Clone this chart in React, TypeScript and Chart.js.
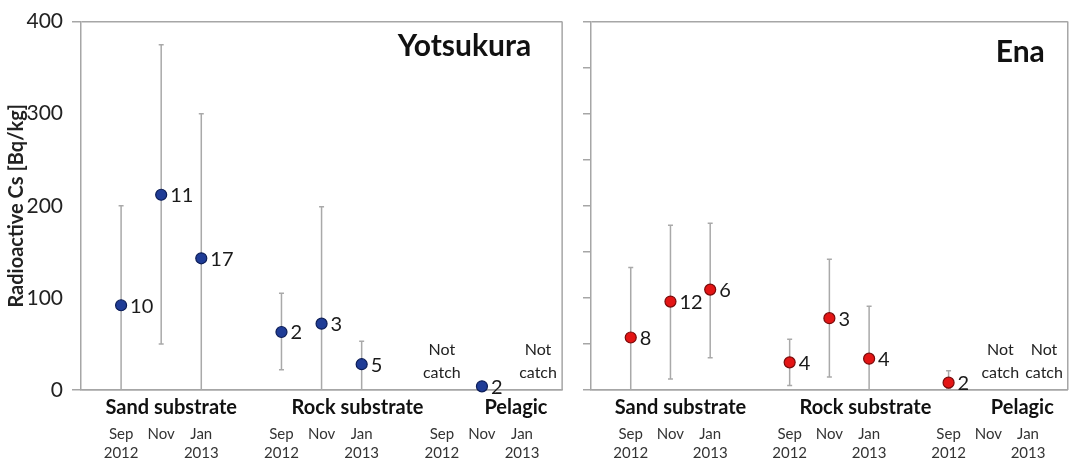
import React, { useEffect, useRef } from "react";
import { Chart, registerables } from "chart.js";

Chart.register(...registerables);

// ---------- data ----------
const groupNames = ["Sand substrate", "Rock substrate", "Pelagic"];
const monthNames = ["Sep", "Nov", "Jan"];
const yearNames = ["2012", "", "2013"];
const leftYTicks = [0, 100, 200, 300, 400];
const rightYTicks = [0, 50, 100, 150, 200, 250, 300, 350, 400];
const notCatchText = ["Not", "catch"];

const yotsukuraTitle = "Yotsukura";
const yotsukuraMean = [92, 212, 143, 63, 72, 28, null, 4, null];
const yotsukuraLow = [0, 50, 0, 22, 0, 0, null, null, null];
const yotsukuraHigh = [200, 375, 300, 105, 199, 53, null, null, null];
const yotsukuraN = [10, 11, 17, 2, 3, 5, null, 2, null];

const enaTitle = "Ena";
const enaMean = [57, 96, 109, 30, 78, 34, 8, null, null];
const enaLow = [0, 12, 35, 5, 14, 0, 2, null, null];
const enaHigh = [133, 179, 181, 55, 142, 91, 21, null, null];
const enaN = [8, 12, 6, 4, 3, 4, 2, null, null];

const yTitle = "Radioactive Cs [Bq/kg]";

// ---------- styling ----------
const FONT = "Lato, 'Open Sans', sans-serif";
const AXIS_GRAY = "#a6a6a6";
const ERR_GRAY = "#a9a9a9";

const slotOf = (k: number) => Math.floor(k / 3) * 4 + (k % 3);
const allSlots = [0, 1, 2, 3, 4, 5, 6, 7, 8].map(slotOf);

type Panel = {
  title: string;
  mean: (number | null)[];
  low: (number | null)[];
  high: (number | null)[];
  n: (number | null)[];
  fill: string;
  border: string;
  canvasWidth: number;
  axisWidth: number;
  padRight: number;
  showYLabels: boolean;
  titleRightOffset: number;
  titleBaseline: number;
};

function makePlugin(p: Panel) {
  return {
    id: "panelDecor" + p.title,
    beforeDatasetsDraw(chart: any) {
      const { ctx } = chart;
      const xs = chart.scales.x;
      const ys = chart.scales.y;
      ctx.save();
      ctx.strokeStyle = ERR_GRAY;
      ctx.lineWidth = 1.5;
      p.mean.forEach((v, k) => {
        const lo = p.low[k];
        const hi = p.high[k];
        if (v == null || lo == null || hi == null) return;
        const x = xs.getPixelForValue(slotOf(k));
        const y1 = ys.getPixelForValue(lo);
        const y2 = ys.getPixelForValue(hi);
        ctx.beginPath();
        ctx.moveTo(x, y1);
        ctx.lineTo(x, y2);
        ctx.moveTo(x - 2.5, y2);
        ctx.lineTo(x + 2.5, y2);
        if (lo > 0) {
          ctx.moveTo(x - 2.5, y1);
          ctx.lineTo(x + 2.5, y1);
        }
        ctx.stroke();
      });
      ctx.restore();
    },
    afterDatasetsDraw(chart: any) {
      const { ctx, chartArea } = chart;
      const xs = chart.scales.x;
      const ys = chart.scales.y;
      ctx.save();
      // right border
      ctx.strokeStyle = AXIS_GRAY;
      ctx.lineWidth = 1.5;
      ctx.beginPath();
      ctx.moveTo(chartArea.right, chartArea.top);
      ctx.lineTo(chartArea.right, chartArea.bottom);
      ctx.stroke();

      // panel title
      ctx.fillStyle = "#111";
      ctx.font = `bold 30px ${FONT}`;
      ctx.textAlign = "right";
      ctx.textBaseline = "alphabetic";
      ctx.fillText(p.title, chartArea.right - p.titleRightOffset, p.titleBaseline);

      // count labels
      ctx.font = `20px ${FONT}`;
      ctx.textAlign = "left";
      ctx.textBaseline = "middle";
      ctx.fillStyle = "#1a1a1a";
      p.mean.forEach((v, k) => {
        const cnt = p.n[k];
        if (v == null || cnt == null) return;
        const x = xs.getPixelForValue(slotOf(k));
        const y = ys.getPixelForValue(v);
        ctx.fillText(String(cnt), x + 9, y + 1);
      });

      // not catch
      const ncOffsets = [0, 12, 16];
      ctx.font = `16px ${FONT}`;
      ctx.textAlign = "center";
      ctx.fillStyle = "#222";
      p.mean.forEach((v, k) => {
        if (v != null) return;
        const m = k % 3;
        const x = xs.getPixelForValue(slotOf(k)) + ncOffsets[m];
        ctx.fillText(notCatchText[0], x, chartArea.bottom - 40);
        ctx.fillText(notCatchText[1], x, chartArea.bottom - 17);
      });

      // group labels
      const groupOffsets = [10, 36, 34];
      ctx.font = `bold 20px ${FONT}`;
      ctx.fillStyle = "#111";
      groupNames.forEach((g, gi) => {
        const x = xs.getPixelForValue(gi * 4 + 1) + groupOffsets[gi];
        ctx.fillText(g, x, chartArea.bottom + 18);
      });
      ctx.restore();
    },
  };
}

function buildChart(canvas: HTMLCanvasElement, p: Panel) {
  const points = p.mean
    .map((v, k) => (v == null ? null : { x: slotOf(k), y: v }))
    .filter((d) => d != null) as { x: number; y: number }[];
  const edge = (v: number) => v === 0 || v === 400;
  return new Chart(canvas, {
    type: "scatter",
    data: {
      datasets: [
        {
          data: points,
          pointRadius: 5.5,
          pointBackgroundColor: p.fill,
          pointBorderColor: p.border,
          pointBorderWidth: 1.2,
          showLine: false,
          clip: false as any,
        },
      ],
    },
    options: {
      responsive: false,
      animation: false,
      layout: { padding: { top: 15, right: p.padRight, left: 0, bottom: 0 } },
      plugins: {
        legend: { display: false },
        tooltip: { enabled: false },
        title: { display: false },
      },
      scales: {
        x: {
          type: "linear",
          min: -1,
          max: 11,
          afterBuildTicks: (s: any) => {
            s.ticks = allSlots.map((v) => ({ value: v }));
          },
          afterFit: (s: any) => {
            s.height = 73;
          },
          grid: { display: false, drawTicks: false },
          border: { display: true, color: AXIS_GRAY, width: 1.5 },
          ticks: {
            autoSkip: false,
            maxRotation: 0,
            padding: 35,
            color: "#333",
            font: { family: FONT, size: 15, lineHeight: 19 / 15 },
            callback: (v: any) => {
              const k = allSlots.indexOf(Number(v));
              if (k < 0) return "";
              const m = k % 3;
              return yearNames[m] ? [monthNames[m], yearNames[m]] : monthNames[m];
            },
          },
        },
        y: {
          type: "linear",
          min: 0,
          max: 400,
          afterBuildTicks: (s: any) => {
            s.ticks = (p.showYLabels ? leftYTicks : rightYTicks).map((v) => ({ value: v }));
          },
          afterFit: (s: any) => {
            s.width = p.axisWidth;
          },
          grid: {
            drawOnChartArea: true,
            lineWidth: 1.5,
            tickLength: p.showYLabels ? 9 : 8,
            color: (c: any) => (c.tick && edge(c.tick.value) ? AXIS_GRAY : "rgba(0,0,0,0)"),
            tickColor: (c: any) =>
              p.showYLabels
                ? c.tick && edge(c.tick.value)
                  ? AXIS_GRAY
                  : "rgba(0,0,0,0)"
                : AXIS_GRAY,
          },
          border: { display: true, color: AXIS_GRAY, width: 1.5 },
          ticks: {
            padding: 9,
            color: "#222",
            font: { family: FONT, size: 21 },
            callback: (v: any) => (p.showYLabels ? String(v) : ""),
          },
          title: {
            display: p.showYLabels,
            text: yTitle,
            color: "#222",
            font: { family: FONT, size: 20, weight: "bold" },
            padding: { top: 5, bottom: 0 },
          },
        },
      },
    },
    plugins: [makePlugin(p)],
  } as any);
}

const leftPanel: Panel = {
  title: yotsukuraTitle,
  mean: yotsukuraMean,
  low: yotsukuraLow,
  high: yotsukuraHigh,
  n: yotsukuraN,
  fill: "#1f3c96",
  border: "#0c1d57",
  canvasWidth: 575,
  axisWidth: 81,
  padRight: 6,
  showYLabels: true,
  titleRightOffset: 31,
  titleBaseline: 56,
};

const rightPanel: Panel = {
  title: enaTitle,
  mean: enaMean,
  low: enaLow,
  high: enaHigh,
  n: enaN,
  fill: "#e31515",
  border: "#7a0a0a",
  canvasWidth: 506,
  axisWidth: 16,
  padRight: 2,
  showYLabels: false,
  titleRightOffset: 23,
  titleBaseline: 62,
};

function PanelChart({ panel, left }: { panel: Panel; left: number }) {
  const ref = useRef<HTMLCanvasElement | null>(null);
  useEffect(() => {
    if (!ref.current) return;
    const ch = buildChart(ref.current, panel);
    return () => ch.destroy();
  }, [panel]);
  return (
    <div style={{ position: "absolute", left, top: 0, width: panel.canvasWidth, height: 463 }}>
      <canvas ref={ref} width={panel.canvasWidth} height={463} style={{ display: "block" }} />
    </div>
  );
}

export default function App() {
  return (
    <div
      style={{
        position: "absolute",
        left: 0,
        top: 0,
        width: 1081,
        height: 463,
        background: "#fff",
        overflow: "hidden",
      }}
    >
      <PanelChart panel={leftPanel} left={0} />
      <PanelChart panel={rightPanel} left={575} />
    </div>
  );
}
